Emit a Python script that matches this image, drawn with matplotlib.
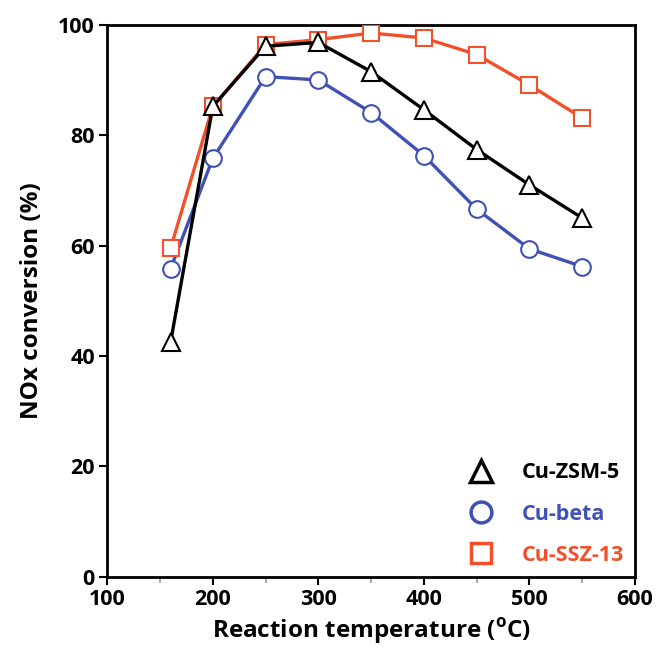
import matplotlib.pyplot as plt
from matplotlib.lines import Line2D
from matplotlib.ticker import MultipleLocator

# data
temps = [160, 200, 250, 300, 350, 400, 450, 500, 550]
cu_zsm5 = [42.5, 85.2, 96.1, 96.8, 91.5, 84.6, 77.4, 71.0, 65.0]
cu_beta = [55.8, 75.8, 90.6, 90.0, 84.1, 76.3, 66.6, 59.4, 56.2]
cu_ssz13 = [59.5, 85.2, 96.4, 97.3, 98.5, 97.6, 94.6, 89.1, 83.1]

labels = ["Cu-ZSM-5", "Cu-beta", "Cu-SSZ-13"]
colors = ["#000000", "#3f51b5", "#f2502a"]

plt.rcParams['font.family'] = ['Open Sans', 'DejaVu Sans']
plt.rcParams['font.weight'] = 'bold'

fig = plt.figure(figsize=(6.58, 6.51), dpi=100)
ax = fig.add_axes([0.163, 0.114, 0.802, 0.848])

# Cu-beta
ax.plot(temps, cu_beta, color=colors[1], lw=2.4, marker='o', ms=12,
        mfc='white', mec=colors[1], mew=1.5, zorder=2)
# Cu-SSZ-13
ax.plot(temps, cu_ssz13, color=colors[2], lw=2.4, marker='s', ms=11.5,
        mfc='white', mec=colors[2], mew=1.5, zorder=3)
# Cu-ZSM-5
ax.plot(temps, cu_zsm5, color=colors[0], lw=2.4, marker='^', ms=13,
        mfc='white', mec=colors[0], mew=1.5, zorder=4)

ax.set_xlim(100, 600)
ax.set_ylim(0, 100)
ax.xaxis.set_major_locator(MultipleLocator(100))
ax.xaxis.set_minor_locator(MultipleLocator(50))
ax.yaxis.set_major_locator(MultipleLocator(20))

for s in ax.spines.values():
    s.set_linewidth(2)
ax.tick_params(axis='both', which='major', direction='out', length=6, width=1.5,
               labelsize=15.5, pad=3)
ax.tick_params(axis='x', which='minor', direction='out', length=4, width=1.2,
               color='#999999')
for lbl in ax.get_xticklabels() + ax.get_yticklabels():
    lbl.set_fontweight('bold')

ax.set_xlabel(r"Reaction temperature ($^\mathregular{o}$C)", fontsize=17.5,
              fontweight='bold', labelpad=4)
ax.set_ylabel("NOx conversion (%)", fontsize=17.5, fontweight='bold', labelpad=10)

handles = [
    Line2D([], [], ls='none', marker='^', ms=16, mfc='white', mec=colors[0], mew=2.5),
    Line2D([], [], ls='none', marker='o', ms=15, mfc='white', mec=colors[1], mew=2.5),
    Line2D([], [], ls='none', marker='s', ms=15, mfc='white', mec=colors[2], mew=2.5),
]
leg = ax.legend(handles, labels, loc='lower right', frameon=False, fontsize=15.5,
                labelcolor=colors, handletextpad=0.9, labelspacing=0.95,
                borderaxespad=0.1)
for t in leg.get_texts():
    t.set_fontweight('bold')

fig.savefig("out.png", dpi=100)
